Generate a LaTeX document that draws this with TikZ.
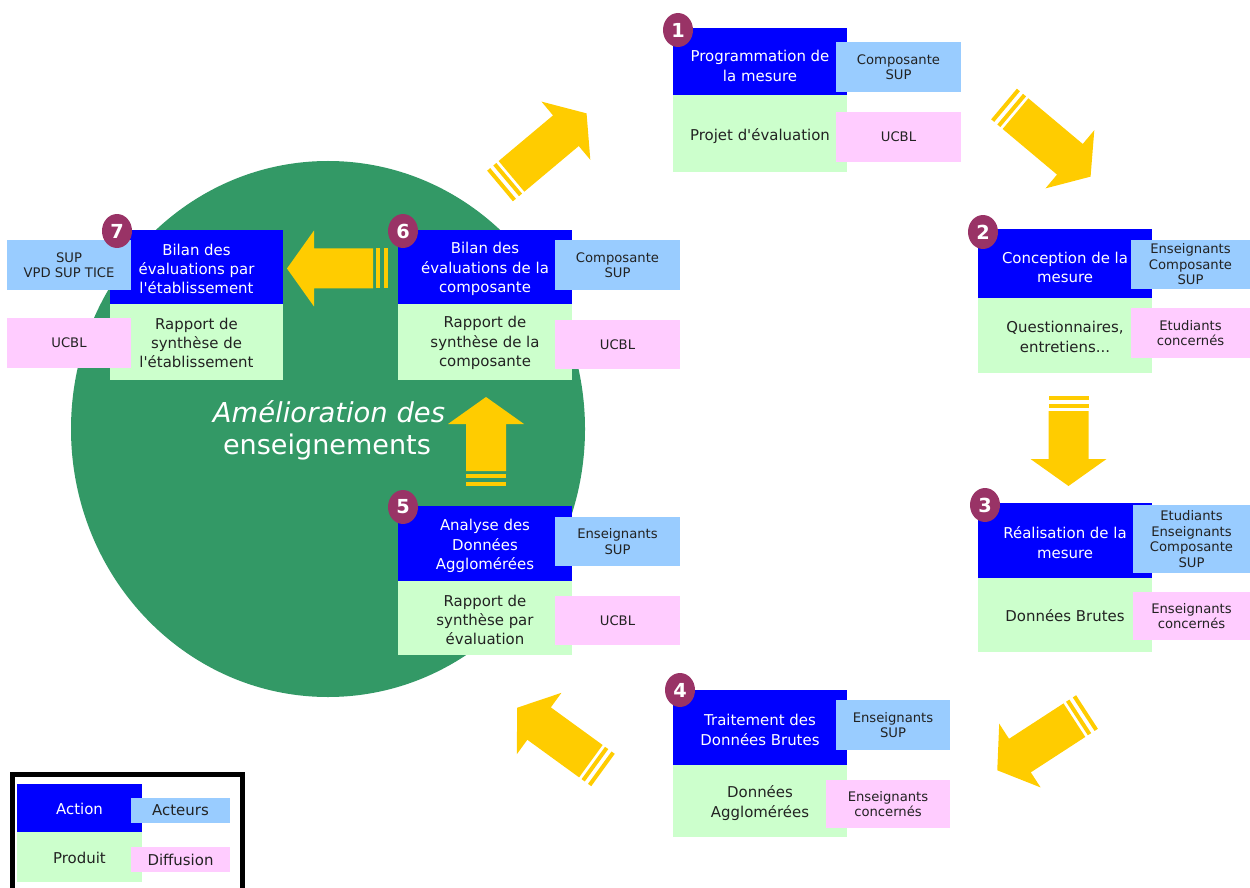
\documentclass[tikz,border=0pt]{standalone}
\usepackage{fontspec}
\setmainfont{DejaVu Sans}
\usetikzlibrary{shapes.geometric}
\definecolor{actblue}{HTML}{0000FF}
\definecolor{prodgreen}{HTML}{CCFFCC}
\definecolor{actorblue}{HTML}{99CCFF}
\definecolor{diffpink}{HTML}{FFCCFF}
\definecolor{circgreen}{HTML}{339966}
\definecolor{arrowyellow}{HTML}{FFCC00}
\definecolor{badgered}{HTML}{993366}
\definecolor{darktext}{HTML}{222222}
\newcommand\yarrow[4]{%
\begin{scope}[shift={(#1,#2)},rotate=#3]
\fill[arrowyellow] (0,-20) rectangle (4,20);
\fill[arrowyellow] (8,-20) rectangle (12,20);
\fill[arrowyellow] (15,-20) -- (#4-27,-20) -- (#4-27,-38) -- (#4,0) -- (#4-27,38) -- (#4-27,20) -- (15,20) -- cycle;
\end{scope}}
\tikzset{
 box/.style={inner sep=0pt, align=center},
 act/.style={box, fill=actblue, minimum width=3.48cm},
 acttext/.style={box, text=white, font=\fontsize{8.5}{11}\selectfont},
 prod/.style={box, fill=prodgreen, minimum width=3.48cm},
 prodtext/.style={box, text=darktext, font=\fontsize{8.5}{11}\selectfont},
 actor/.style={box, fill=actorblue, text=darktext, minimum width=2.5cm, minimum height=1cm, font=\fontsize{7.5}{8.8}\selectfont},
 diff/.style={box, fill=diffpink, text=darktext, minimum width=2.5cm, minimum height=1cm, font=\fontsize{7.5}{8.8}\selectfont},
 badge/.style={ellipse, fill=badgered, text=white, minimum width=0.6cm, minimum height=0.68cm, inner sep=0pt, font=\bfseries\fontsize{11}{11}\selectfont},
}
\begin{document}
\begin{tikzpicture}[x=0.02cm,y=-0.02cm]
\useasboundingbox (0,0) rectangle (1250,888);
% circle
\fill[circgreen] (328,429) ellipse [x radius=257, y radius=268];
% arrows
\yarrow{500}{186}{40}{113}
\yarrow{1004}{104}{-40}{113}
\yarrow{1068.5}{396}{-90}{90}
\yarrow{1087}{712}{213}{107}
\yarrow{603}{770}{144}{106}
\yarrow{486}{486}{90}{89}
\yarrow{388}{268.5}{180}{101}
% step 1
\node[act, minimum height=1.34cm] (s1a) at (760,61.5) {};
\node[acttext] (s1at) at ([yshift=-0.09cm]s1a.center) {Programmation de\\la mesure};
\node[prod, minimum height=1.54cm] (s1p) at (760,133.5) {};
\node[prodtext] (s1pt) at ([yshift=-0.05cm]s1p.center) {Projet d\textquotesingle évaluation};
\node[actor] (s1r) at (898.5,67) {Composante\\SUP};
\node[diff] (s1d) at (898.5,137) {UCBL};
\node[badge] (b1) at (678,30) {1};
% step 2
\node[act, minimum height=1.38cm] (s2a) at (1065,263.5) {};
\node[acttext] (s2at) at ([yshift=-0.08cm]s2a.center) {Conception de la\\mesure};
\node[prod, minimum height=1.5cm] (s2p) at (1065,335.5) {};
\node[prodtext] (s2pt) at ([yshift=-0.03cm]s2p.center) {Questionnaires,\\entretiens...};
\node[actor, minimum width=2.38cm, minimum height=0.98cm] (s2r) at (1190.5,264.5) {Enseignants\\Composante\\SUP};
\node[diff, minimum width=2.38cm] (s2d) at (1190.5,333) {Etudiants\\concernés};
\node[badge] (b2) at (983,232) {2};
% step 3
\node[act, minimum height=1.5cm] (s3a) at (1065,540.5) {};
\node[acttext] (s3at) at ([yshift=-0.04cm]s3a.center) {Réalisation de la\\mesure};
\node[prod, minimum height=1.48cm] (s3p) at (1065,615) {};
\node[prodtext] (s3pt) at ([yshift=-0.02cm]s3p.center) {Données Brutes};
\node[actor, minimum width=2.34cm, minimum height=1.36cm] (s3r) at (1191.5,539) {Etudiants\\Enseignants\\Composante\\SUP};
\node[diff, minimum width=2.34cm, minimum height=0.96cm] (s3d) at (1191.5,616) {Enseignants\\concernés};
\node[badge] (b3) at (985,505) {3};
% step 4
\node[act, minimum height=1.5cm] (s4a) at (760,727.5) {};
\node[acttext] (s4at) at ([yshift=-0.05cm]s4a.center) {Traitement des\\Données Brutes};
\node[prod, minimum height=1.44cm] (s4p) at (760,801) {};
\node[prodtext] (s4pt) at ([yshift=-0.04cm]s4p.center) {Données\\Agglomérées};
\node[actor, minimum width=2.28cm] (s4r) at (893,725) {Enseignants\\SUP};
\node[diff, minimum width=2.48cm, minimum height=0.96cm] (s4d) at (888,804) {Enseignants\\concernés};
\node[badge] (b4) at (680,690) {4};
% step 5
\node[act, minimum height=1.5cm] (s5a) at (485,543.5) {};
\node[acttext] (s5at) at ([yshift=-0.05cm]s5a.center) {Analyse des\\Données\\Agglomérées};
\node[prod, minimum height=1.48cm] (s5p) at (485,618) {};
\node[prodtext] (s5pt) at ([yshift=-0.04cm]s5p.center) {Rapport de\\synthèse par\\évaluation};
\node[actor, minimum height=0.98cm] (s5r) at (617.5,541.5) {Enseignants\\SUP};
\node[diff] (s5d) at (617.5,620.5) {UCBL};
\node[badge] (b5) at (403,507) {5};
% step 6
\node[act, minimum height=1.48cm] (s6a) at (485,267) {};
\node[acttext] (s6at) at ([yshift=-0.04cm]s6a.center) {Bilan des\\évaluations de la\\composante};
\node[prod, minimum height=1.52cm] (s6p) at (485,342) {};
\node[prodtext] (s6pt) at ([yshift=-0.02cm]s6p.center) {Rapport de\\synthèse de la\\composante};
\node[actor] (s6r) at (617.5,265) {Composante\\SUP};
\node[diff, minimum height=0.98cm] (s6d) at (617.5,344.5) {UCBL};
\node[badge] (b6) at (403,231) {6};
% step 7
\node[act, minimum width=3.46cm, minimum height=1.48cm] (s7a) at (196.5,267) {};
\node[acttext] (s7at) at ([yshift=-0.04cm]s7a.center) {Bilan des\\évaluations par\\l\textquotesingle établissement};
\node[prod, minimum width=3.46cm, minimum height=1.52cm] (s7p) at (196.5,342) {};
\node[prodtext] (s7pt) at ([yshift=-0.02cm]s7p.center) {Rapport de\\synthèse de\\l\textquotesingle établissement};
\node[actor, minimum width=2.48cm] (s7r) at (69,265) {SUP\\VPD SUP TICE};
\node[diff, minimum width=2.48cm] (s7d) at (69,343) {UCBL};
\node[badge] (b7) at (117,231) {7};
% centre text
\node[text=white, font=\itshape\fontsize{15.6}{18}\selectfont, inner sep=0pt] (t1) at (329,412) {Amélioration des};
\node[text=white, font=\fontsize{15.4}{18}\selectfont, inner sep=0pt] (t2) at (327,447) {enseignements};
% legend
\draw[line width=0.1cm] (12.5,774) rectangle (242.5,895);
\node[act, minimum width=2.5cm, minimum height=0.96cm] (la) at (79.5,808) {};
\node[acttext] (lat) at ([yshift=-0.02cm]la.center) {Action};
\node[prod, minimum width=2.5cm, minimum height=1cm] (lp) at (79.5,857) {};
\node[prodtext] (lpt) at ([yshift=-0.02cm]lp.center) {Produit};
\node[actor, minimum width=1.98cm, minimum height=0.5cm, font=\fontsize{8.5}{10}\selectfont] (lr) at (180.5,810.5) {Acteurs};
\node[diff, minimum width=1.98cm, minimum height=0.5cm, font=\fontsize{8.5}{10}\selectfont] (ld) at (180.5,859.5) {Diffusion};
\end{tikzpicture}
\end{document}
